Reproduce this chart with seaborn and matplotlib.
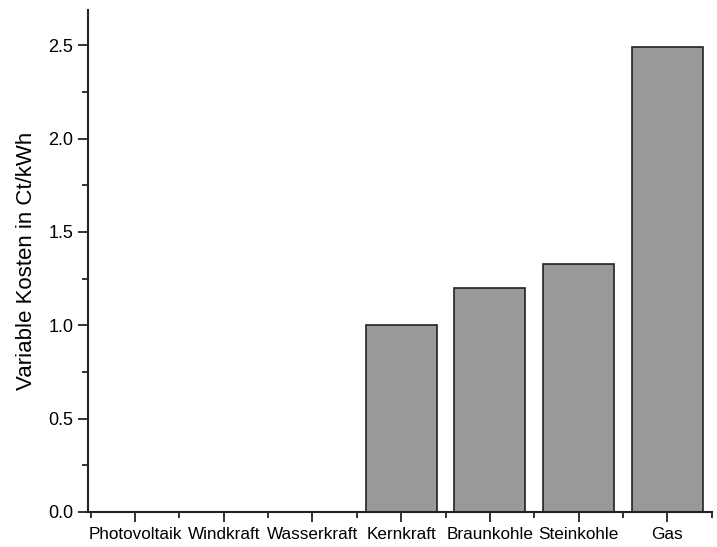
import matplotlib
matplotlib.use('Agg')
import matplotlib.pyplot as plt
import seaborn as sns
import pandas as pd
from matplotlib.ticker import MultipleLocator, FixedLocator

categories = ['Photovoltaik', 'Windkraft', 'Wasserkraft', 'Kernkraft',
              'Braunkohle', 'Steinkohle', 'Gas']
kosten = [0.0, 0.0, 0.0, 1.0, 1.2, 1.33, 2.49]

sns.set_style('ticks')
plt.rcParams['font.family'] = ['Liberation Sans', 'DejaVu Sans']
plt.rcParams['text.color'] = 'black'
plt.rcParams['axes.labelcolor'] = 'black'
plt.rcParams['xtick.labelcolor'] = 'black'
plt.rcParams['ytick.labelcolor'] = 'black'

df = pd.DataFrame({'Energieträger': categories, 'Kosten': kosten})

fig = plt.figure(figsize=(7.17, 5.47), dpi=100)
ax = fig.add_axes([0.1227, 0.064, 0.870, 0.918])

sns.barplot(data=df, x='Energieträger', y='Kosten', color='#999999',
            saturation=1, width=0.8, edgecolor='#222222', linewidth=1.2, ax=ax)

ax.set_xlim(-0.53, 6.5)
ax.set_ylim(0, 2.69)
ax.yaxis.set_major_locator(MultipleLocator(0.5))
ax.yaxis.set_minor_locator(MultipleLocator(0.25))
ax.xaxis.set_minor_locator(FixedLocator([i + 0.5 for i in range(-1, 7)]))
ax.yaxis.set_major_formatter(matplotlib.ticker.FormatStrFormatter('%.1f'))

ax.set_xlabel('')
ax.set_ylabel('Variable Kosten in Ct/kWh', fontsize=16, labelpad=8)
ax.tick_params(axis='both', which='major', direction='out', length=7, width=1.3,
               color='#222222')
ax.tick_params(axis='both', which='minor', direction='out', length=4, width=1.3,
               color='#222222')
ax.tick_params(axis='x', labelsize=12.3)
ax.tick_params(axis='y', labelsize=13)

for side in ['top', 'right']:
    ax.spines[side].set_visible(False)
for side in ['left', 'bottom']:
    ax.spines[side].set_linewidth(1.5)
    ax.spines[side].set_color('#222222')

fig.savefig('out.png', dpi=100)
